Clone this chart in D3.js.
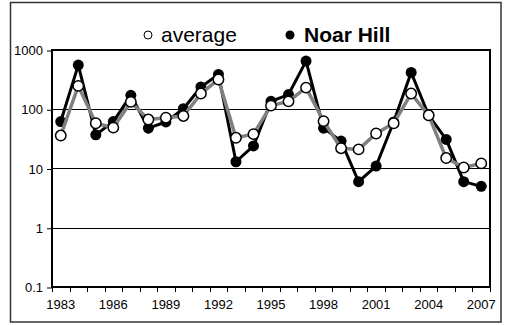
<!DOCTYPE html>
<html><head><meta charset="utf-8">
<script src="https://cdn.jsdelivr.net/npm/d3@7"></script>
<style>body{margin:0;background:#fff}svg{display:block;font-family:"Liberation Sans",Arial,sans-serif}</style>
</head><body><svg id="c" width="506" height="325"></svg>
<script>
const years = [1983,1984,1985,1986,1987,1988,1989,1990,1991,1992,1993,1994,1995,1996,1997,1998,1999,2000,2001,2002,2003,2004,2005,2006,2007];
const noarHill = [62,556,37,62,172,48,61,102,238,387,13,24,136,177,650,48,29,6,11,61,418,79,31,6,5];
const average = [36,248,58,49,133,67,72,77,184,318,33,38,115,136,232,63,22,21,39,58,184,79,15,10.4,12.2];
const yTicks = [0.1,1,10,100,1000];
const gridValues = [1,10,100];
const xTickLabels = [1983,1986,1989,1992,1995,1998,2001,2004,2007];

const svg = d3.select("#c");
const L=52, R=490, T=50, B=287;

svg.append("rect").attr("x",10.5).attr("y",2.5).attr("width",490.5).attr("height",319.5)
  .attr("fill","#fff").attr("stroke","#333").attr("stroke-width",1.5);

const x = d3.scaleBand().domain(years).range([L,R]).padding(0);
const y = d3.scaleLog().domain([0.1,1000]).range([B,T]);
const cx = d => x(d)+x.bandwidth()/2;
const cr = v => Math.round(v)+0.5;

// gridlines
svg.append("g").selectAll("line").data(gridValues).join("line")
  .attr("x1",L).attr("x2",R).attr("y1",d=>cr(y(d))).attr("y2",d=>cr(y(d)))
  .attr("stroke","#000").attr("stroke-width",1);

// y axis
const ya = svg.append("g").attr("transform",`translate(${L},0.5)`)
  .call(d3.axisLeft(y).tickValues(yTicks).tickFormat(d=>String(d)).tickSize(5).tickPadding(4));
ya.select(".domain").remove();
ya.selectAll("text").attr("font-size",13).attr("font-family","Liberation Sans, Arial, sans-serif").attr("fill","#000");
ya.selectAll("line").attr("stroke","#000");

// x axis ticks at band boundaries
const bounds = years.map(d=>x(d)).concat([R]);
svg.append("g").selectAll("line").data(bounds).join("line")
  .attr("x1",d=>cr(d)).attr("x2",d=>cr(d)).attr("y1",B).attr("y2",B+5).attr("stroke","#000");
svg.append("g").selectAll("text").data(xTickLabels).join("text")
  .attr("x",d=>cx(d)).attr("y",B+22).attr("text-anchor","middle")
  .attr("font-size",13).text(d=>d);

// plot border
svg.append("rect").attr("x",L).attr("y",T).attr("width",R-L).attr("height",B-T)
  .attr("fill","none").attr("stroke","#000").attr("stroke-width",2);

const line = d3.line().x((d,i)=>cx(years[i])).y(d=>y(d));

// Noar Hill
svg.append("path").datum(noarHill).attr("d",line).attr("fill","none")
  .attr("stroke","#000").attr("stroke-width",3).attr("stroke-linejoin","round");
svg.append("g").selectAll("circle").data(noarHill).join("circle")
  .attr("cx",(d,i)=>cx(years[i])).attr("cy",d=>y(d)).attr("r",5.5).attr("fill","#000");

// average
svg.append("path").datum(average).attr("d",line).attr("fill","none")
  .attr("stroke","#808080").attr("stroke-width",3.5).attr("stroke-linejoin","round");
svg.append("g").selectAll("circle").data(average).join("circle")
  .attr("cx",(d,i)=>cx(years[i])).attr("cy",d=>y(d)).attr("r",5.2)
  .attr("fill","#fff").attr("stroke","#000").attr("stroke-width",1.5);

// legend
const lg = svg.append("g");
lg.append("circle").attr("cx",148).attr("cy",35).attr("r",4).attr("fill","#fff").attr("stroke","#000").attr("stroke-width",1);
lg.append("text").attr("x",161).attr("y",42).attr("font-size",21).text("average");
lg.append("circle").attr("cx",290).attr("cy",35).attr("r",4.5).attr("fill","#000");
lg.append("text").attr("x",304).attr("y",42).attr("font-size",21).attr("font-weight","bold").text("Noar Hill");
</script></body></html>
